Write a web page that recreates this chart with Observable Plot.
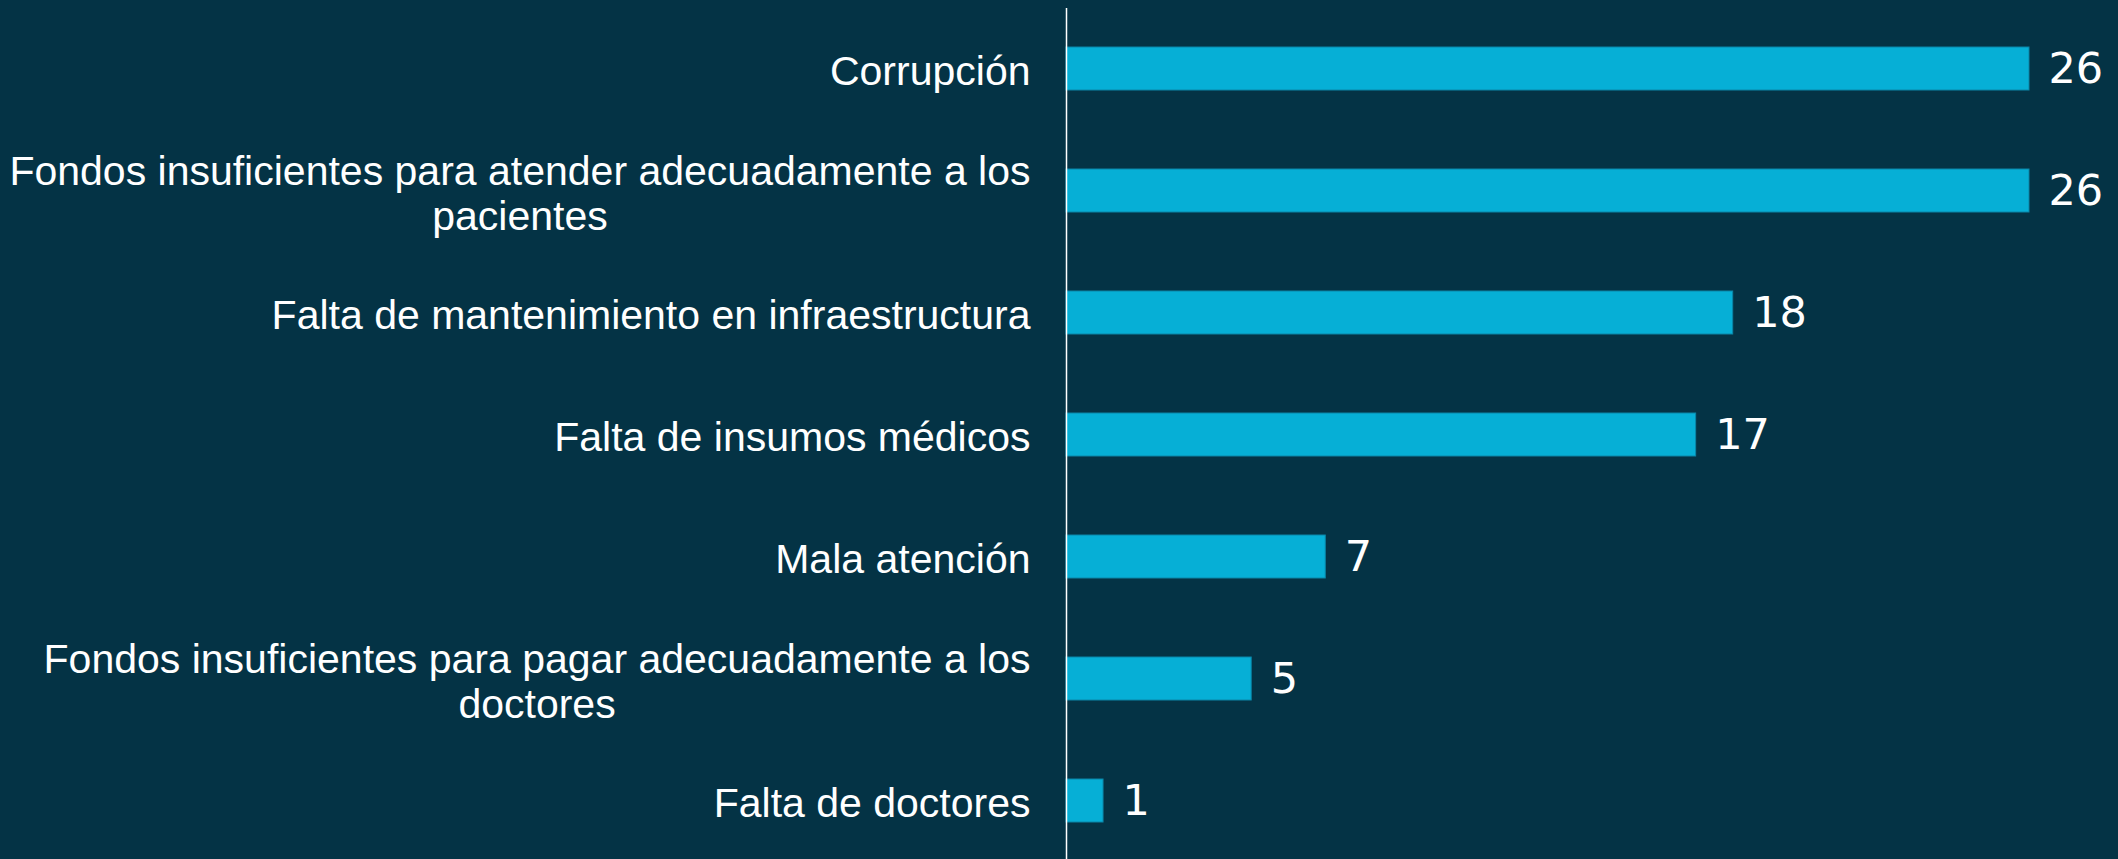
<!DOCTYPE html>
<html>
<head>
<meta charset="utf-8">
<script src="https://cdn.jsdelivr.net/npm/d3@7"></script>
<script src="https://cdn.jsdelivr.net/npm/@observablehq/plot@0.6"></script>
<style>
  html, body { margin: 0; padding: 0; background: #043345; overflow: hidden; }
  #chart svg { display: block; }
</style>
</head>
<body>
<div id="chart"></div>
<script>
const categories = [
  "Corrupción",
  "Fondos insuficientes para atender adecuadamente a los pacientes",
  "Falta de mantenimiento en infraestructura",
  "Falta de insumos médicos",
  "Mala atención",
  "Fondos insuficientes para pagar adecuadamente a los doctores",
  "Falta de doctores"
];
const values = [26, 26, 18, 17, 7, 5, 1];

const data = categories.map((c, i) => ({category: c, value: values[i]}));

const chart = Plot.plot({
  width: 2118,
  height: 859,
  marginLeft: 1066,
  marginRight: 89,
  marginTop: 8,
  marginBottom: -3,
  style: {background: "#043345", color: "white", fontFamily: "'Liberation Sans', Arial, sans-serif"},
  x: {domain: [0, 26], axis: null},
  y: {domain: categories, paddingInner: 0.644, paddingOuter: 0.322, axis: null},
  marks: [
    Plot.barX(data, {y: "category", x: "value", fill: "#06afd6", stroke: "#0a86a8", strokeWidth: 1}),
    Plot.ruleX([0], {stroke: "white", strokeWidth: 1.5}),
    Plot.text(data, {
      y: "category", x: 0, text: "category", dx: -36, dy: 2, textAnchor: "end",
      lineWidth: 27.5, lineHeight: 1.1, fontSize: 41, fill: "white",
      className: "cat-labels"
    }),
    Plot.text(data, {
      y: "category", x: "value", text: d => String(d.value), dx: 19, textAnchor: "start",
      fontSize: 43, fill: "white", fontFamily: "'DejaVu Sans', sans-serif"
    })
  ]
});
document.getElementById("chart").appendChild(chart);

// Center wrapped label lines under each other (as in the reference), keeping the block right-aligned.
chart.querySelectorAll(".cat-labels text").forEach(t => {
  const tspans = t.querySelectorAll("tspan");
  if (tspans.length < 2) return;
  const w = t.getBBox().width;
  t.setAttribute("text-anchor", "middle");
  const tr = t.getAttribute("transform") || "";
  t.setAttribute("transform", tr + ` translate(${-w / 2},0)`);
});
</script>
</body>
</html>
